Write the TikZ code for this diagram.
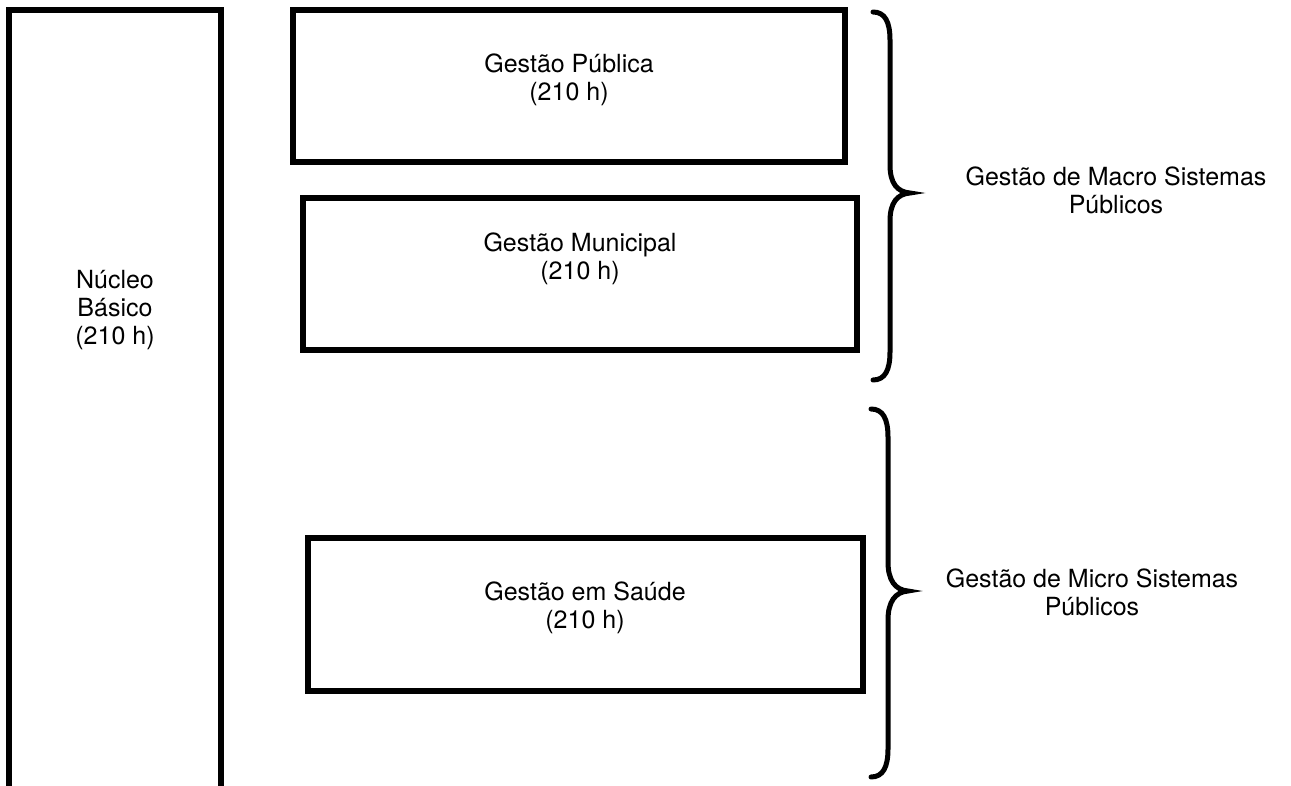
\documentclass[tikz,border=0pt]{standalone}
\usepackage{fontspec}
\setmainfont{TeX Gyre Heros}
\begin{document}
\begin{tikzpicture}[x=1pt,y=-1pt,
  box/.style={draw=black,line width=6pt,rectangle,inner sep=0pt},
  txt/.style={align=center,inner sep=0pt,font=\fontsize{25}{28}\selectfont},
  bracepath/.style={draw=black,line width=5pt,line cap=round}]
\useasboundingbox (0,0) rectangle (1291,785);
% left tall column (open at the bottom)
\coordinate (nbl) at (9,800);
\coordinate (ntl) at (9,10);
\coordinate (ntr) at (221,10);
\coordinate (nbr) at (221,800);
\draw[line width=6pt,line join=miter] (nbl) -- (ntl) -- (ntr) -- (nbr);
\node[txt] (nucleo) at (115,310) {Núcleo\\Básico\\(210 h)};
% boxes
\node[box,minimum width=552pt,minimum height=152pt] (b1) at (569,86) {};
\node[txt] (t1) at (569,80) {Gestão Pública\\(210 h)};
\node[box,minimum width=554pt,minimum height=152pt] (b2) at (580,274) {};
\node[txt] (t2) at (580,259) {Gestão Municipal\\(210 h)};
\node[box,minimum width=555pt,minimum height=153pt] (b3) at (585,614) {};
\node[txt] (t3) at (585,608) {Gestão em Saúde\\(210 h)};
% upper brace
\coordinate (ua) at (873,12);
\coordinate (ub) at (890,40);
\coordinate (uc) at (890,165);
\coordinate (ut) at (910,193);
\coordinate (ud) at (890,221);
\coordinate (ue) at (890,352);
\coordinate (uf) at (873,380);
\draw[bracepath] (ua) .. controls (885,12) and (890,22) .. (ub) -- (uc)
  .. controls (890,183) and (897,192) .. (ut)
  .. controls (897,194) and (890,203) .. (ud) -- (ue)
  .. controls (890,370) and (885,380) .. (uf);
% lower brace
\coordinate (la) at (871,409);
\coordinate (lb) at (888,437);
\coordinate (lc) at (888,562);
\coordinate (lt) at (908,591);
\coordinate (ld) at (888,620);
\coordinate (le) at (888,749);
\coordinate (lf) at (871,777);
\draw[bracepath] (la) .. controls (883,409) and (888,419) .. (lb) -- (lc)
  .. controls (888,580) and (895,590) .. (lt)
  .. controls (895,592) and (888,602) .. (ld) -- (le)
  .. controls (888,767) and (883,777) .. (lf);
% group labels
\node[txt] (macro) at (1116,190) {Gestão de Macro Sistemas\\Públicos};
\node[txt] (micro) at (1092,592) {Gestão de Micro Sistemas\\Públicos};
\end{tikzpicture}
\end{document}
